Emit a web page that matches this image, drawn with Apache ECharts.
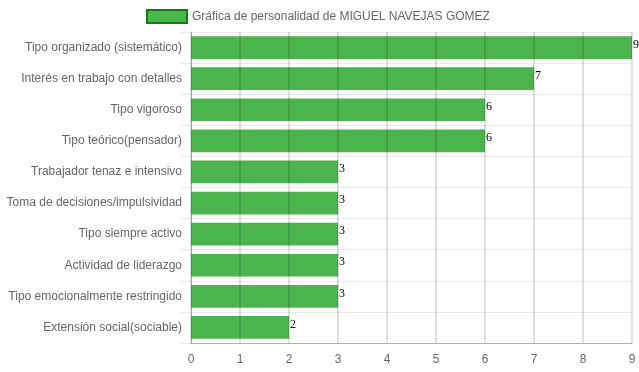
<!DOCTYPE html>
<html><head><meta charset="utf-8">
<script src="https://cdn.jsdelivr.net/npm/echarts@6/dist/echarts.min.js"></script>
<style>html,body{margin:0;padding:0;background:#fff}#c{width:639px;height:372px}</style>
</head><body><div id="c"></div>
<script>
const seriesName = 'Gráfica de personalidad de MIGUEL NAVEJAS GOMEZ';
const categories = ['Tipo organizado (sistemático)','Interés en trabajo con detalles','Tipo vigoroso','Tipo teórico(pensador)','Trabajador tenaz e intensivo','Toma de decisiones/impulsividad','Tipo siempre activo','Actividad de liderazgo','Tipo emocionalmente restringido','Extensión social(sociable)'];
const values = [9,7,6,6,3,3,3,3,3,2];
const xTicks = [0,1,2,3,4,5,6,7,8,9];

const chart = echarts.init(document.getElementById('c'), null, {renderer:'canvas'});
chart.setOption({
  animation:false,
  textStyle:{fontFamily:'Liberation Sans, Arial, sans-serif'},
  legend:{
    left:141, top:4, itemWidth:40, itemHeight:13, itemGap:5,
    icon:'rect',
    textStyle:{color:'#666', fontSize:12, fontFamily:'Liberation Sans, Arial, sans-serif'},
    itemStyle:{borderColor:'#0e7f0e', borderWidth:2},
    data:[seriesName]
  },
  grid:{left:191, right:7, top:32, bottom:29, containLabel:false},
  xAxis:{
    type:'value', min:xTicks[0], max:xTicks[xTicks.length-1], interval:1, z:3,
    axisLine:{show:true, lineStyle:{color:'rgba(0,0,0,0.25)'}},
    axisTick:{show:false},
    axisLabel:{color:'#666', fontSize:12, margin:11},
    splitLine:{show:true, lineStyle:{color:'rgba(0,0,0,0.17)', width:1.5}}
  },
  yAxis:{
    type:'category', data:categories, inverse:true, boundaryGap:true,
    axisLine:{show:true, lineStyle:{color:'rgba(0,0,0,0.25)'}},
    axisTick:{show:true, length:11, lineStyle:{color:'rgba(0,0,0,0.08)'}},
    axisLabel:{color:'#666', fontSize:12, margin:9},
    splitLine:{show:true, lineStyle:{color:'rgba(0,0,0,0.08)'}}
  },
  series:[{
    name:seriesName, type:'bar', data:values, barCategoryGap:'27%',
    itemStyle:{color:'#4cb44c'},
    label:{show:true, position:'right', distance:1, offset:[0,-3], color:'#000', fontSize:12, fontFamily:'Liberation Serif, Times New Roman, serif'}
  }]
});
</script></body></html>
